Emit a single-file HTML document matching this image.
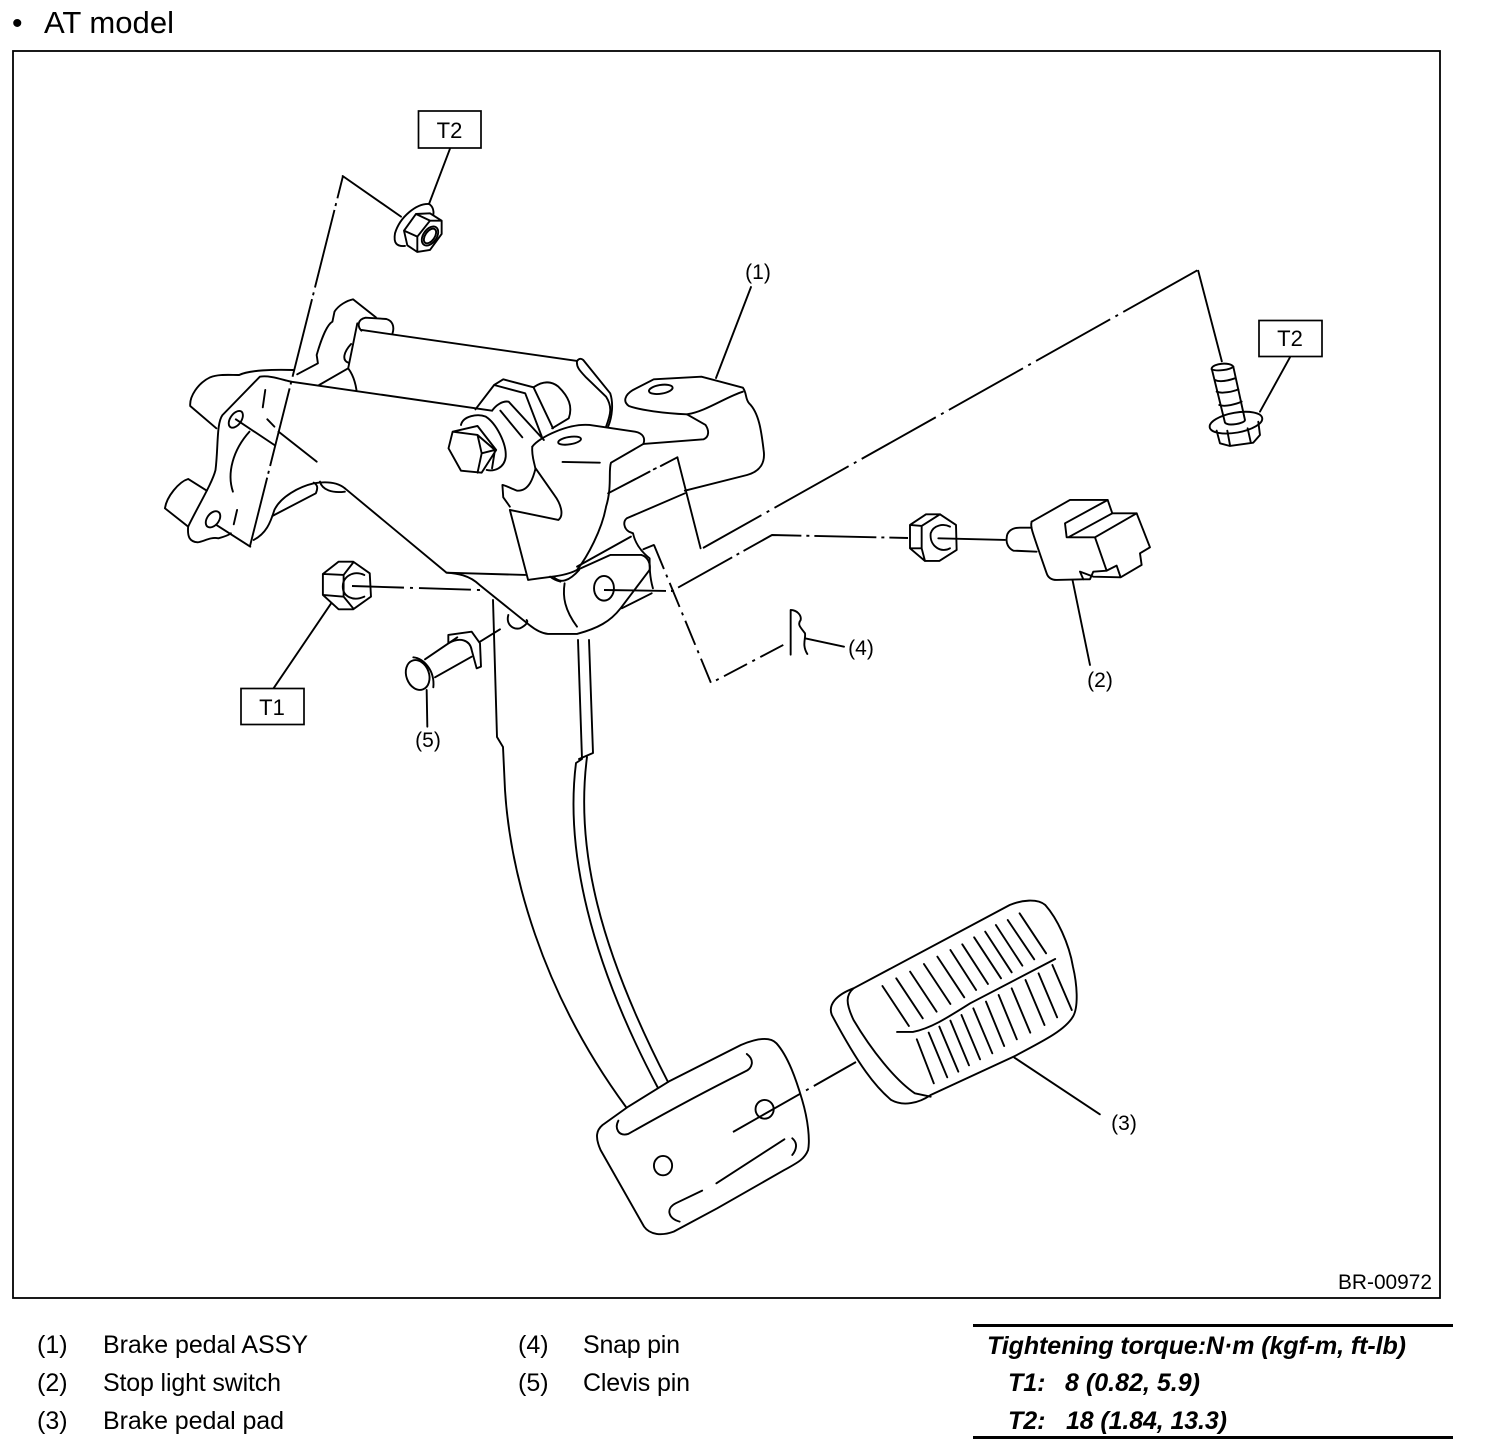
<!DOCTYPE html>
<html><head><meta charset="utf-8"><style>
html,body{margin:0;padding:0;background:#fff}
svg{display:block}
.d path,.d ellipse,.d line{vector-effect:non-scaling-stroke}
text{font-family:"Liberation Sans",sans-serif;fill:#000;stroke:none}
</style></head><body>
<svg width="1504" height="1444" viewBox="0 0 1504 1444" xmlns="http://www.w3.org/2000/svg">
<rect width="1504" height="1444" fill="#fff"/>
<text x="12" y="33" font-size="30">•</text>
<text x="44" y="33" font-size="31" textLength="130" lengthAdjust="spacingAndGlyphs">AT model</text>
<rect x="13" y="51" width="1427" height="1247" fill="none" stroke="#000" stroke-width="1.8"/>
<g fill="none" stroke="#000" stroke-width="1.9" stroke-linejoin="round" stroke-linecap="round" class="d">

<g transform="translate(150,280) scale(0.4146,0.3333)">
<path d="M355 283L405 250L402 225C410 190 425 135 440 125L445 95C455 75 475 62 490 58L545 112"/>
<path d="M345 270C300 268 240 270 215 285C190 285 165 282 145 292C115 310 95 350 97 378L160 445"/>
<path d="M340 305C320 300 290 285 265 290L175 405C160 430 165 500 158 570C150 610 115 680 92 740C90 770 95 785 115 787C130 785 145 770 165 775C180 770 190 765 195 760"/>
<path d="M137 632L92 597C70 605 40 650 36 685L92 740"/>
<ellipse cx="207" cy="418" rx="14" ry="27" transform="rotate(25 207 418)"/>
<ellipse cx="152" cy="718" rx="15" ry="26" transform="rotate(25 152 718)"/>
<path d="M240 455C200 510 185 580 200 635"/>
<path d="M278 330L272 382M283 418L300 440M310 455L402 545M210 690L202 733M207 418L300 495"/>
<path d="M160 735L242 800"/>
<path d="M510 152C500 140 500 118 520 113L570 117C585 122 590 140 585 160"/>
<path d="M510 150L1030 243C1028 260 1035 270 1050 290L1100 350C1115 380 1112 400 1100 440"/>
<path d="M1030 243C1035 235 1040 235 1045 240L1110 340C1118 370 1115 410 1105 440"/>
<path d="M500 130L478 265M485 192C468 215 462 240 478 248M478 265L408 315M478 265C490 285 495 305 498 330"/>
<path d="M340 305L825 392"/>
<path d="M785 388L830 315L852 298L925 322C945 305 965 300 985 320C1010 350 1020 380 1010 415L970 445M830 315L905 340L945 470M925 322L972 445"/>
<path d="M825 392C835 375 850 362 865 365L950 480M845 392L898 472"/>
<path d="M730 455L790 438L835 510L800 578L750 572L720 505ZM750 435C755 408 790 400 810 410C835 430 860 490 858 530C855 565 830 575 812 570M730 455L790 465L832 510M790 465L800 520L790 578M800 520L832 510M832 510L825 565"/>
<path d="M922 500C940 470 1010 430 1060 435L1170 455C1190 460 1195 475 1190 492L1112 548C1105 570 1115 620 1100 680C1090 750 1055 830 1030 870C1000 890 960 890 912 900L868 690L985 720C1000 705 990 670 975 645L930 565C925 590 915 635 885 632C870 625 855 615 850 615L852 652L868 680"/>
<path d="M922 500C920 530 928 550 930 570"/>
<ellipse cx="1012" cy="482" rx="28" ry="11" transform="rotate(-12 1012 482)"/>
<path d="M995 546L1085 548"/>
<path d="M1190 492L1335 478C1350 470 1348 450 1340 435L1295 403C1240 400 1180 390 1155 378C1140 365 1145 345 1165 330L1215 298L1330 290L1430 323C1440 340 1435 355 1445 370C1470 400 1475 460 1480 510C1485 550 1470 575 1440 585L1290 632"/>
<path d="M1295 403C1340 395 1390 350 1430 335"/>
<ellipse cx="1232" cy="328" rx="29" ry="13" transform="rotate(-12 1232 328)"/>
<path d="M1290 640L1150 715C1140 725 1143 745 1155 755L1165 760C1170 790 1185 815 1205 835C1205 860 1205 890 1213 925"/>
<path d="M1105 640L1205 575M1215 568L1220 565M1232 558L1272 532"/>
<path d="M1272 532L1328 805"/>
<path d="M1190 808L1215 795"/>
<path d="M1160 770L1030 860"/>
<path d="M715 878L905 885"/>
<path d="M470 625L715 878C740 880 770 885 795 915L915 1035C930 1050 945 1060 960 1062L1030 1062C1080 1045 1110 1025 1135 985L1205 870"/>
<path d="M470 625C450 605 420 605 395 610C360 620 315 650 300 690C290 730 280 760 250 780"/>
<path d="M410 605C415 630 440 640 470 635M295 708L400 640C405 625 405 615 395 608"/>
<path d="M990 905C975 900 970 895 965 890M975 893C990 910 1010 905 1035 870"/>
<path d="M1110 825L1185 825C1200 830 1208 850 1205 870M1110 825L1030 870"/>
<ellipse cx="1095" cy="925" rx="24" ry="37"/>
<path d="M1000 910C995 950 1000 990 1030 1040"/>
<path d="M1138 985L1210 940"/>
<!-- T1 nut -->
<path d="M417 882L455 845L490 845L530 880L533 950L490 988L455 988L417 945ZM417 882L467 885L467 950L417 945M467 885L490 848M467 950L490 985"/>
<path d="M517 885C490 870 465 890 465 920C465 950 490 965 517 950"/>
<path d="M437 970L298 1225"/>
</g>

<!-- pedal arm -->
<path d="M493 600L497 737L503 747L505 790C510 870 540 990 626 1107"/>
<path d="M578 640L582 759L576 763C565 850 590 960 658 1088"/>
<path d="M589 640L593 753L579 759M587 757C575 850 600 950 668 1082"/>

<g transform="translate(480,880) scale(0.3953,0.3333)">
<path d="M375 680L480 603L660 495C690 480 730 465 750 490C780 530 800 600 815 660C830 720 835 780 830 810C820 840 800 850 770 870L600 985L490 1055C460 1068 430 1065 415 1040L305 810C290 770 295 750 310 735Z"/>
<path d="M350 722C340 745 350 770 375 762C430 725 560 640 670 575C690 565 695 540 675 522"/>
<path d="M770 778L598 910M562 932L495 970C470 985 475 1015 505 1025M790 775C805 790 800 810 790 825"/>
<ellipse cx="463" cy="857" rx="23" ry="29"/>
<ellipse cx="720" cy="688" rx="23" ry="28"/>
<path d="M945 325L1340 75C1370 60 1410 55 1430 75C1460 115 1490 190 1500 260C1510 310 1515 380 1500 410C1480 450 1430 480 1350 530L1140 645C1110 670 1070 680 1040 660C1000 620 960 560 890 405C880 375 900 345 945 325"/>
<path d="M945 325C925 345 925 370 945 420C990 510 1050 600 1100 640L1140 650"/>
<path d="M1055 456L1095 456C1140 445 1180 415 1240 370L1455 237"/>
<path d="M1018 318L1085 438M1053 295L1120 415M1088 275L1155 395M1123 252L1190 372M1157 230L1225 352M1190 210L1255 330M1220 193L1285 312M1250 172L1318 295M1278 155L1345 277M1305 135L1372 257M1335 120L1402 238M1365 100L1432 220"/>
<path d="M1105 478L1148 610M1135 458L1182 592M1162 440L1210 575M1190 422L1237 556M1218 405L1265 538M1248 385L1296 520M1280 365L1326 498M1312 345L1358 478M1345 325L1392 458M1380 300L1428 435M1413 280L1460 412M1448 255L1497 390"/>
<path d="M1352 533L1568 703"/>
</g>

<!-- switch, nut, bolt -->
<g transform="translate(880,300) scale(0.3333)">
<path d="M90 675L138 643L180 643L228 675L230 750L178 783L135 783L90 745ZM90 675L125 678L125 745L90 745M125 678L180 643M125 745L135 783"/>
<path d="M210 680C190 670 160 675 152 700C148 740 185 760 210 745"/>
<path d="M175 715L375 720"/>
<path d="M380 715C380 695 395 683 420 683L455 683M470 755L400 752C385 745 378 730 380 715"/>
<path d="M455 665L570 600L683 600L697 640L770 640L810 742L780 760L785 795L722 832L640 830L600 815L610 838L630 838L640 815L680 812L710 797L722 832"/>
<path d="M455 665C450 680 455 690 500 820C505 835 515 840 530 840L610 838"/>
<path d="M683 600L555 670L560 712L645 712L770 640M697 640L565 712M645 712L680 812"/>
<path d="M578 842L630 1095"/>
<path d="M995 205C1000 190 1050 185 1060 200L1095 360C1095 370 1045 380 1035 368Z"/>
<path d="M995 208C1010 215 1050 210 1060 200M1005 240C1020 248 1050 240 1065 235M1010 275C1025 282 1060 275 1075 268M1018 315C1035 322 1070 312 1085 305"/>
<ellipse cx="1068" cy="368" rx="80" ry="30" transform="rotate(-10 1068 368)"/>
<path d="M1010 392L1020 430L1050 438L1120 428L1140 405L1135 365M1042 392L1050 435M1103 385L1112 425"/>
<path d="M1230 172L1140 335"/>
</g>

<!-- top nut -->
<g transform="translate(330,100) scale(0.3333)">
<path d="M360 146L297 312"/>
<path d="M297 312C260 310 210 350 195 400C190 430 200 440 225 438M297 312C310 320 312 335 310 345"/>
<path d="M222 392L258 342L300 340L335 362L335 402L300 450L262 456L232 436ZM222 392L262 410L300 362L335 362M262 410L262 456M258 342L300 362"/>
<ellipse cx="300" cy="408" rx="20" ry="32" transform="rotate(35 300 408)"/>
<ellipse cx="300" cy="408" rx="14" ry="25" transform="rotate(35 300 408)"/>
<path d="M38 228L213 350"/>
</g>

<!-- clevis pin -->
<g transform="translate(380,600) scale(0.3333)">
<ellipse cx="113" cy="225" rx="34" ry="46" transform="rotate(-20 113 225)"/>
<path d="M100 172C130 175 165 210 160 262"/>
<path d="M135 178L232 112M165 232L275 170"/>
<path d="M205 130L205 105L275 95L300 130L303 200L290 205L275 150C270 120 240 110 205 130"/>
<path d="M140 270L142 380"/>
<path d="M300 125L360 88"/>
<path d="M385 45C378 70 395 90 420 85C440 75 445 65 440 60"/>
</g>

<!-- snap pin -->
<g transform="translate(680,590) scale(0.3333)">
<path d="M332 60L332 194M332 60C350 60 365 75 362 90C350 105 365 115 375 130C378 145 365 165 382 192M375 145L492 170"/>
</g>

<!-- leaders -->
<path d="M751 287L716 378"/>

<!-- dash-dot lines -->
<g stroke-linecap="butt">
<path d="M343 176L250 546" stroke-dasharray="80 5 3 4" stroke-dashoffset="57"/>
<path d="M703 548L1198 270" stroke-dasharray="85 6 3 6" stroke-dashoffset="18"/>
<path d="M1198 270L1222 362"/>
<path d="M604 590L672 591L772 535L908 538" stroke-dasharray="62 5 3 5"/>
<path d="M654 545L711 683L787 643" stroke-dasharray="26 6 3 6"/>
<path d="M352 586L480 590" stroke-dasharray="52 6 3 6"/>
<path d="M733 1132L856 1062" stroke-dasharray="78 6 3 6"/>
</g>
</g>

<!-- boxes -->
<g fill="#fff" stroke="#000" stroke-width="1.7">
<rect x="418.500" y="111" width="62.500" height="37"/>
<rect x="1259" y="320.500" width="63" height="36"/>
<rect x="241" y="688.500" width="63" height="36"/>
</g>
<g font-size="22">
<text x="449.500" y="138" text-anchor="middle">T2</text>
<text x="1290" y="346" text-anchor="middle">T2</text>
<text x="272" y="715" text-anchor="middle">T1</text>
</g>
<g font-size="21">
<text x="758" y="279" text-anchor="middle">(1)</text>
<text x="1100" y="687" text-anchor="middle">(2)</text>
<text x="1124" y="1130" text-anchor="middle">(3)</text>
<text x="861" y="655" text-anchor="middle">(4)</text>
<text x="428" y="747" text-anchor="middle">(5)</text>
<text x="1338" y="1289" textLength="94" lengthAdjust="spacingAndGlyphs">BR-00972</text>
</g>
<g font-size="25">
<text x="37" y="1353">(1)</text><text x="103" y="1353" textLength="205">Brake pedal ASSY</text>
<text x="37" y="1391">(2)</text><text x="103" y="1391" textLength="178">Stop light switch</text>
<text x="37" y="1429">(3)</text><text x="103" y="1429" textLength="181">Brake pedal pad</text>
<text x="518" y="1353">(4)</text><text x="583" y="1353" textLength="97">Snap pin</text>
<text x="518" y="1391">(5)</text><text x="583" y="1391" textLength="107">Clevis pin</text>
</g>
<rect x="973" y="1324" width="480" height="3" fill="#000"/>
<rect x="973" y="1436" width="480" height="3" fill="#000"/>
<g font-size="25" font-weight="bold" font-style="italic">
<text x="987" y="1354" textLength="419">Tightening torque:N·m (kgf-m, ft-lb)</text>
<text x="1008" y="1391">T1:</text><text x="1065" y="1391" textLength="135">8 (0.82, 5.9)</text>
<text x="1008" y="1429">T2:</text><text x="1066" y="1429" textLength="161">18 (1.84, 13.3)</text>
</g>
</svg>
</body></html>
